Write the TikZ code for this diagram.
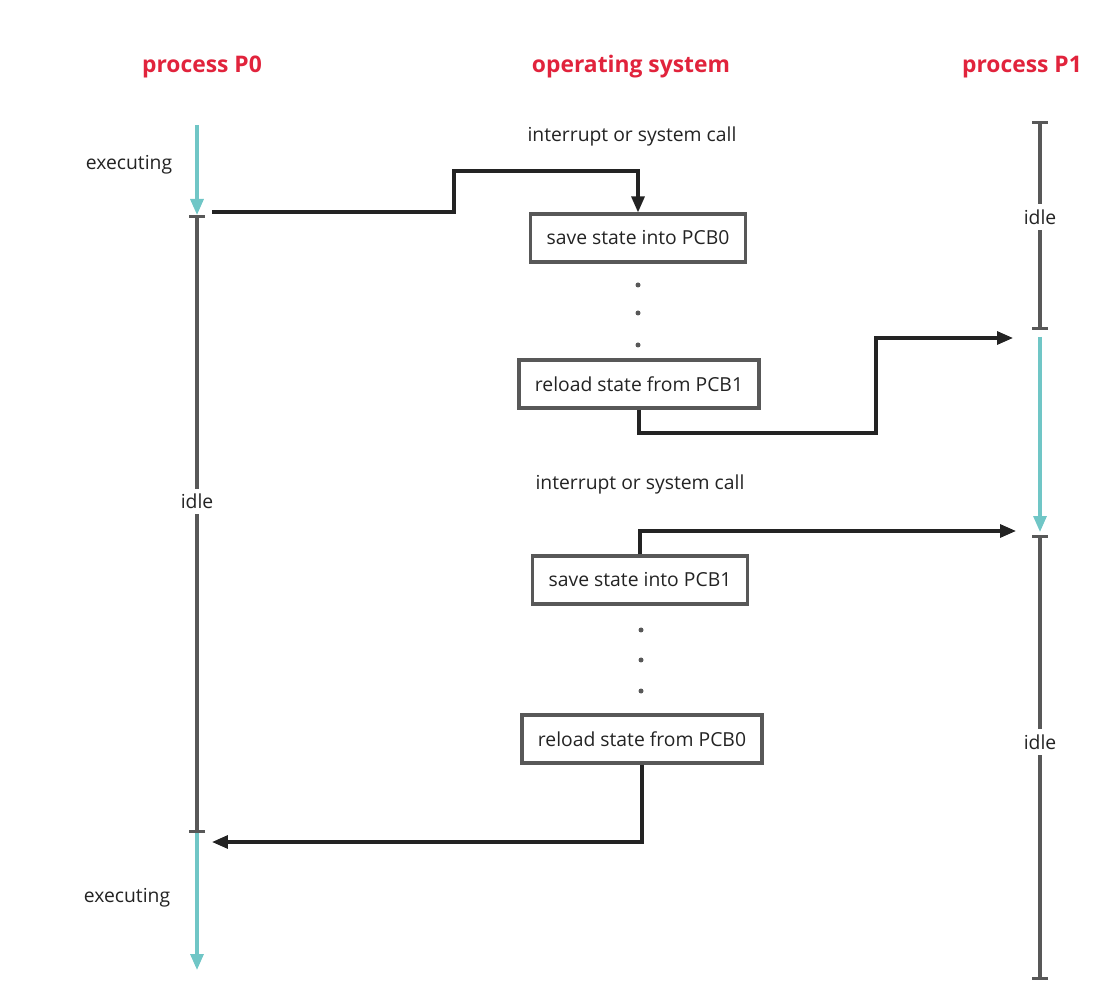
\documentclass[tikz,border=0pt]{standalone}
\usepackage{fontspec}
\setmainfont{Open Sans}
\usetikzlibrary{arrows.meta,positioning}
\definecolor{crimson}{RGB}{225,35,60}
\definecolor{aqua}{RGB}{112,198,198}
\definecolor{slate}{RGB}{88,88,88}
\definecolor{ink}{RGB}{35,35,35}
\tikzset{
  >={Triangle[length=3.2mm,width=2.6mm]},
  head/.style={font=\bfseries\fontsize{13}{15}\selectfont,text=crimson},
  lbl/.style={font=\fontsize{11}{13}\selectfont,text=ink},
  state/.style={draw=slate,line width=1.8pt,minimum height=9.6mm,inner xsep=3.2mm,
    font=\fontsize{11}{13}\selectfont,text=ink},
  run/.style={->,draw=aqua,line width=1.8pt},
  wait/.style={{Bar[width=3.2mm]}-{Bar[width=3.2mm]},draw=slate,line width=1.8pt},
  jump/.style={->,draw=ink,line width=1.8pt},
  idle/.style={lbl,fill=white,inner sep=3pt},
}
\begin{document}
\begin{tikzpicture}[x=0.02cm,y=-0.02cm]
  \useasboundingbox (0,0) rectangle (1102,999);
  % headings
  \node[head] (h0) at (202,67) {process P0};
  \node[head] (hos) at (631,67) {operating system};
  \node[head] (h1) at (1022,67) {process P1};
  % process P0 time line
  \coordinate (p0top) at (197,125);
  \coordinate (p0a) at (197,215);
  \coordinate (p0b) at (197,833);
  \coordinate (p0end) at (197,970);
  \draw[run] (p0top) -- (p0a);
  \draw[wait] (p0a) -- node[idle,pos=0.464] (idle0) {idle} (p0b);
  \draw[run] (p0b) -- (p0end);
  \node[lbl] (exec0) at (129,165) {executing};
  \node[lbl] (exec0b) at (127,898) {executing};
  % process P1 time line
  \coordinate (p1top) at (1040,121);
  \coordinate (p1a) at (1040,330);
  \coordinate (p1b) at (1040,337);
  \coordinate (p1c) at (1040,532);
  \coordinate (p1d) at (1040,535);
  \coordinate (p1end) at (1040,980);
  \draw[wait] (p1top) -- node[idle,pos=0.46] (idle1) {idle} (p1a);
  \draw[run] (p1b) -- (p1c);
  \draw[wait] (p1d) -- node[idle,pos=0.465] (idle1b) {idle} (p1end);
  % operating system
  \node[lbl] (irq0) at (632,136) {interrupt or system call};
  \node[state] (save0) at (638,238) {save state into PCB0};
  \node[state] (load1) at (639,384) {reload state from PCB1};
  \node[lbl] (irq1) at (640,484) {interrupt or system call};
  \node[state] (save1) at (640,580) {save state into PCB1};
  \node[state] (load0) at (642,739) {reload state from PCB0};
  \foreach \y in {285,313,345} \fill[slate] (638,\y) circle (2.5);
  \foreach \y in {630,660,691} \fill[slate] (641,\y) circle (2.5);
  % switches
  \coordinate (out0) at (212,212);
  \coordinate (bend0) at (454,171);
  \coordinate (bend1) at (876,433);
  \coordinate (in1) at (1013,338);
  \coordinate (out1) at (1016,531);
  \coordinate (in0) at (212,842);
  \draw[jump] (out0) -| (bend0) -| (save0.north);
  \draw[jump] (load1.south) |- (bend1) |- (in1);
  \draw[jump] (save1.north) |- (out1);
  \draw[jump] (load0.south) |- (in0);
\end{tikzpicture}
\end{document}
